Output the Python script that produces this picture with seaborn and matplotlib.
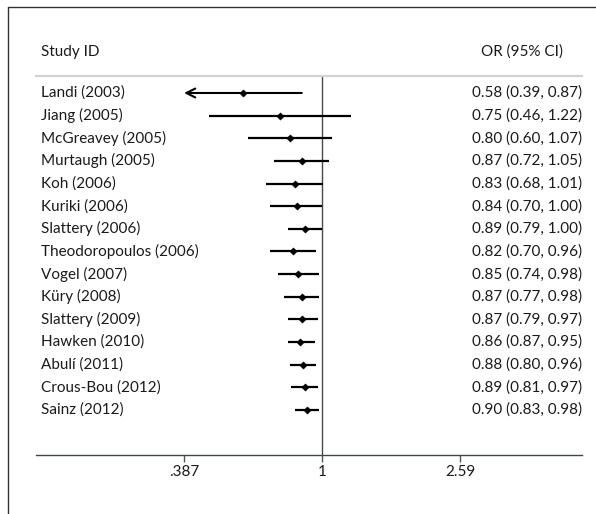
import numpy as np
import pandas as pd
import matplotlib
matplotlib.use("Agg")
import matplotlib.pyplot as plt
from matplotlib.lines import Line2D
import seaborn as sns

studies = ["Landi (2003)", "Jiang (2005)", "McGreavey (2005)", "Murtaugh (2005)",
           "Koh (2006)", "Kuriki (2006)", "Slattery (2006)", "Theodoropoulos (2006)",
           "Vogel (2007)", "Küry (2008)", "Slattery (2009)", "Hawken (2010)",
           "Abulí (2011)", "Crous-Bou (2012)", "Sainz (2012)"]
odds_ratio = [0.58, 0.75, 0.80, 0.87, 0.83, 0.84, 0.89, 0.82, 0.85, 0.87, 0.87, 0.86, 0.88, 0.89, 0.90]
ci_low = [0.39, 0.46, 0.60, 0.72, 0.68, 0.70, 0.79, 0.70, 0.74, 0.77, 0.79, 0.79, 0.80, 0.81, 0.83]
ci_high = [0.87, 1.22, 1.07, 1.05, 1.01, 1.00, 1.00, 0.96, 0.98, 0.98, 0.97, 0.95, 0.96, 0.97, 0.98]
or_labels = ["0.58 (0.39, 0.87)", "0.75 (0.46, 1.22)", "0.80 (0.60, 1.07)", "0.87 (0.72, 1.05)",
             "0.83 (0.68, 1.01)", "0.84 (0.70, 1.00)", "0.89 (0.79, 1.00)", "0.82 (0.70, 0.96)",
             "0.85 (0.74, 0.98)", "0.87 (0.77, 0.98)", "0.87 (0.79, 0.97)", "0.86 (0.87, 0.95)",
             "0.88 (0.80, 0.96)", "0.89 (0.81, 0.97)", "0.90 (0.83, 0.98)"]
x_ticks = [0.387, 1, 2.59]
x_tick_labels = [".387", "1", "2.59"]
axis_min = 0.387

sns.set_theme(style="white")
plt.rcParams['font.family'] = ['Lato', 'DejaVu Sans']

df = pd.DataFrame({"study": studies, "or": odds_ratio, "lo": ci_low, "hi": ci_high,
                   "row": np.arange(len(studies))})

W, H = 596, 514
fig = plt.figure(figsize=(W / 100, H / 100), dpi=100)
ax = fig.add_axes([36 / W, 59 / H, 546 / W, 379 / H])

txt = "#1a1a1a"
fs = 11.0

# CI lines (with clipping arrow)
for _, r in df.iterrows():
    if r["lo"] < axis_min * 1.02 and r["row"] == 0:
        ax.annotate("", xy=(axis_min, r["row"]), xytext=(r["hi"], r["row"]),
                    arrowprops=dict(arrowstyle="->", lw=1.5, color="black",
                                    mutation_scale=16, shrinkA=0, shrinkB=0))
    else:
        ax.hlines(r["row"], r["lo"], r["hi"], color="black", lw=1.6)

sns.scatterplot(data=df, x="or", y="row", marker="D", s=14, color="black",
                edgecolor="black", linewidth=0.3, ax=ax, zorder=5, legend=False)

ax.axvline(1, color="#4a4a4a", lw=1.0, zorder=1)

ax.set_xscale("log")
ax.set_xlim(np.exp(-1.968), np.exp(1.789))
ax.set_ylim(15.99, -0.75)
ax.set_xticks(x_ticks)
ax.set_xticklabels(x_tick_labels)
ax.xaxis.set_minor_locator(matplotlib.ticker.NullLocator())
ax.set_yticks([])
ax.set_xlabel("")
ax.set_ylabel("")
ax.tick_params(axis="x", direction="out", length=5, width=1, color="#555555",
               pad=2, labelsize=fs, labelcolor=txt, bottom=True)

for s in ["left", "right"]:
    ax.spines[s].set_visible(False)
ax.spines["top"].set_color("#d2d2d2")
ax.spines["top"].set_linewidth(1.6)
ax.spines["bottom"].set_color("#3e4848")
ax.spines["bottom"].set_linewidth(1.0)

# study labels and OR text
for i, (s, lab) in enumerate(zip(studies, or_labels)):
    ax.text(0.009, i, s, transform=ax.get_yaxis_transform(), ha="left", va="center",
            fontsize=fs, color=txt)
    ax.text(1.0, i, lab, transform=ax.get_yaxis_transform(), ha="right", va="center",
            fontsize=fs, color=txt)

ax.text(0.009, 1 + 24 / 379, "Study ID", transform=ax.transAxes, ha="left", va="center",
        fontsize=fs, color=txt)
ax.text(1 - 19 / 546, 1 + 24 / 379, "OR (95% CI)", transform=ax.transAxes, ha="right",
        va="center", fontsize=fs, color=txt)

# outer frame (left and top edges)
fig.add_artist(Line2D([8 / W, 8 / W], [0, 1 - 7 / H], transform=fig.transFigure,
                      color="#333333", lw=1.0))
fig.add_artist(Line2D([8 / W, 1], [1 - 7 / H, 1 - 7 / H], transform=fig.transFigure,
                      color="#333333", lw=1.0))

fig.savefig("out.png", dpi=100)
